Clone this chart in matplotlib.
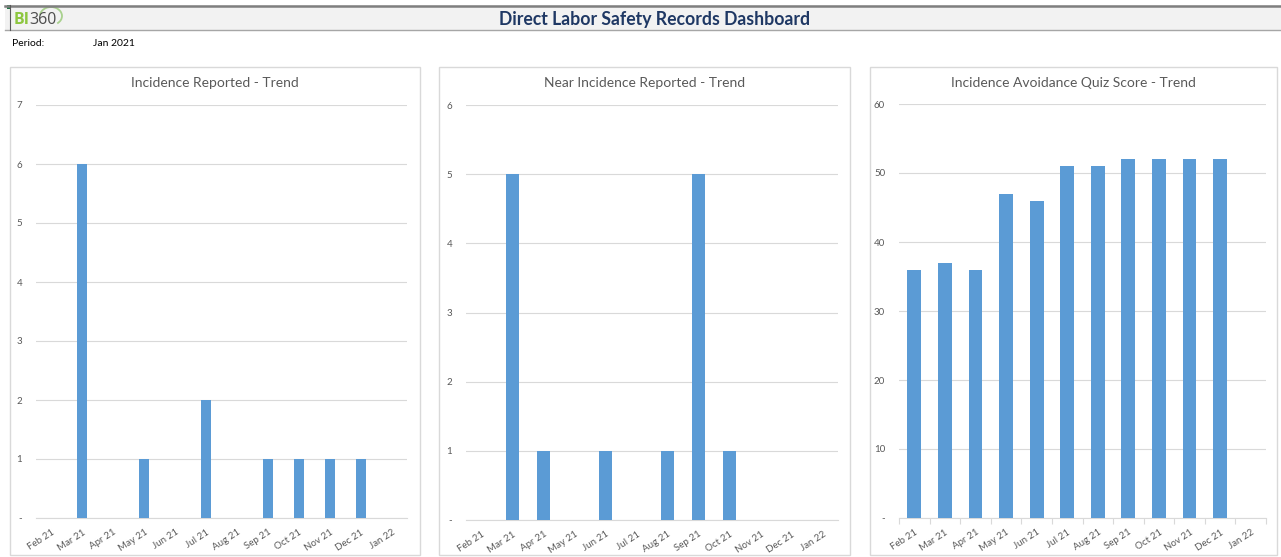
import matplotlib
matplotlib.use("Agg")
import matplotlib.pyplot as plt
from matplotlib.patches import Rectangle, Arc
from matplotlib.lines import Line2D
import numpy as np

plt.rcParams['font.family'] = ['Lato', 'DejaVu Sans']

months = ["Feb 21", "Mar 21", "Apr 21", "May 21", "Jun 21", "Jul 21",
          "Aug 21", "Sep 21", "Oct 21", "Nov 21", "Dec 21", "Jan 22"]
incidence = [0, 6, 0, 1, 0, 2, 0, 1, 1, 1, 1, 0]
near_incidence = [0, 5, 1, 0, 1, 0, 1, 5, 1, 0, 0, 0]
quiz_score = [36, 37, 36, 47, 46, 51, 51, 52, 52, 52, 52, 0]

titles = ["Incidence Reported - Trend", "Near Incidence Reported - Trend",
          "Incidence Avoidance Quiz Score - Trend"]

W, H = 1281, 557
fig = plt.figure(figsize=(W / 100, H / 100), dpi=100)
fig.patch.set_facecolor("white")


def rect(x0, y0, x1, y1):
    return [x0 / W, 1 - y1 / H, (x1 - x0) / W, (y1 - y0) / H]


def fx(x):
    return x / W


def fy(y):
    return 1 - y / H


# Header band
fig.patches.append(Rectangle((fx(5), fy(30)), fx(1281 - 5), (25) / H,
                             transform=fig.transFigure, facecolor="#F2F2F2",
                             edgecolor="none", zorder=-2))
fig.lines.append(Line2D([fx(5), 1], [fy(5.5), fy(5.5)], transform=fig.transFigure,
                        color="#7F7F7F", lw=1.8))
fig.lines.append(Line2D([fx(5), 1], [fy(30), fy(30)], transform=fig.transFigure,
                        color="#A6A6A6", lw=1.0))
fig.lines.append(Line2D([fx(10), fx(10)], [fy(5), fy(30)], transform=fig.transFigure,
                        color="#595959", lw=0.8))
fig.patches.append(Rectangle((fx(7), fy(9)), 4 / W, 4 / H, transform=fig.transFigure,
                             facecolor="#217346", edgecolor="none"))

# Logo
fig.text(fx(14), fy(20), "BI", color="#8DC63F", fontsize=11.5, va="center",
         ha="left", fontweight="bold", family=["Open Sans", "DejaVu Sans"])
fig.text(fx(29), fy(20), "360", color="#4D4D4D", fontsize=11.5, va="center",
         ha="left", family=["Open Sans", "DejaVu Sans"])
fig.patches.append(Arc((fx(51), fy(16)), 22 / W, 18 / H, theta1=-70, theta2=170,
                       transform=fig.transFigure, color="#A9D18E", lw=1.3))

fig.text(fx(655), fy(19.5), "Direct Labor Safety Records Dashboard", color="#1F3864",
         fontsize=12.7, fontweight="bold", ha="center", va="center")
fig.text(fx(12), fy(43), "Period:", fontsize=7.5, color="#000000", va="center")
fig.text(fx(93), fy(43), "Jan 2021", fontsize=7.5, color="#000000", va="center")

panels = [
    dict(box=(10, 67, 420, 555), ax=(36, 105, 407, 518), data=incidence, ymax=7,
         step=1, width=0.32, ticks=False),
    dict(box=(439, 67, 850, 555), ax=(466, 105, 838, 520), data=near_incidence, ymax=6,
         step=1, width=0.40, ticks=False),
    dict(box=(870, 67, 1277, 555), ax=(899, 104, 1266, 518), data=quiz_score, ymax=60,
         step=10, width=0.45, ticks=True),
]

for p, title in zip(panels, titles):
    bx0, by0, bx1, by1 = p["box"]
    fig.patches.append(Rectangle((fx(bx0), fy(by1)), (bx1 - bx0) / W, (by1 - by0) / H,
                                 transform=fig.transFigure, facecolor="none",
                                 edgecolor="#D9D9D9", lw=1.0, zorder=-1))
    fig.text(fx((bx0 + bx1) / 2), fy(83), title, fontsize=10, color="#595959",
             ha="center", va="center")

    ax = fig.add_axes(rect(*p["ax"]))
    x = np.arange(len(months))
    ax.bar(x, p["data"], width=p["width"], color="#5B9BD5", zorder=3)
    ax.set_xlim(-0.5, len(months) - 0.5)
    ax.set_ylim(0, p["ymax"])
    yt = np.arange(0, p["ymax"] + p["step"], p["step"])
    ax.set_yticks(yt)
    ax.set_yticklabels(["-"] + [str(v) for v in yt[1:]])
    ax.yaxis.grid(True, color="#D9D9D9", lw=0.8, zorder=0)
    ax.set_axisbelow(True)
    for s in ["top", "right", "left"]:
        ax.spines[s].set_visible(False)
    ax.spines["bottom"].set_color("#D9D9D9")
    ax.spines["bottom"].set_linewidth(0.8)
    ax.tick_params(axis="y", length=0, pad=10, labelsize=7, labelcolor="#595959")
    ax.set_xticks(x)
    ax.set_xticklabels(months, rotation=33, ha="right", rotation_mode="anchor")
    ax.tick_params(axis="x", length=0, pad=7, labelsize=7, labelcolor="#595959")
    if p["ticks"]:
        ax.set_xticks(np.arange(-0.5, len(months) + 0.5, 1), minor=True)
        ax.tick_params(axis="x", which="minor", length=4, color="#D9D9D9", width=0.8)
    ax.patch.set_alpha(0)

fig.savefig("out.png", dpi=100, facecolor="white")
